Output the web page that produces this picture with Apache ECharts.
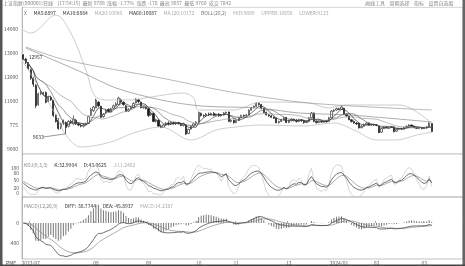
<!DOCTYPE html>
<html><head><meta charset="utf-8">
<script src="https://cdn.jsdelivr.net/npm/echarts@6/dist/echarts.min.js"></script>
<style>html,body{margin:0;padding:0;background:#fff}#c{width:465px;height:266px}</style>
</head><body><div id="c"></div>
<script>
// candles: [open, close, low, high]
const ohlc = [
[12920,12750,12700,12957],[12750,12600,12540,12800],[12580,12350,12300,12620],[12300,11950,11880,12350],
[11950,11700,11580,12000],[11650,10800,10700,11700],[10850,11300,10800,11350],[11300,11350,11250,11420],
[11320,11280,11220,11380],[11350,10950,10900,11400],[10980,11150,10950,11200],[11150,11050,11000,11220],
[11000,10400,10330,11050],[10420,10150,10100,10450],[10200,9850,9800,10290],[9880,10050,9820,10100],
[10080,10180,10000,10230],[10100,9900,9633,10150],[9950,10150,9900,10200],[10150,10100,10050,10220],
[10050,10250,10000,10400],[10200,10050,10000,10250],[10050,10000,9950,10100],[9980,9950,9900,10050],
[9950,10000,9900,10060],[10000,10050,9980,10100],[10060,10350,10040,10400],[10400,10650,10380,10720],
[10600,10750,10550,10800],[10720,11040,10700,11100],[10950,10800,10750,11000],[10780,10320,10290,10800],
[10350,10450,10300,10500],[10500,10620,10450,10650],[10650,10560,10520,10700],[10560,10680,10540,10720],
[10700,10800,10680,10850],[10800,10880,10760,10950],[10850,11120,10830,11180],[11050,10960,10900,11100],
[10950,10850,10800,10980],[10800,10560,10540,10820],[10580,10650,10550,10700],[10650,10720,10620,10780],
[10720,10900,10700,10950],[10920,11080,10900,11120],[11050,10980,10920,11100],[10950,10720,10700,10980],
[10720,10760,10680,10800],[10750,10680,10650,10780],[10680,10400,10330,10700],[10420,10500,10380,10560],
[10480,10150,10120,10520],[10160,10220,10100,10260],[10200,9950,9920,10230],[9960,9900,9870,10020],
[9900,10000,9880,10050],[10000,10080,9960,10120],[10080,10050,10000,10150],[10050,10120,10000,10160],
[10100,10050,10020,10150],[10050,10100,10000,10140],[10100,10060,10020,10130],[10050,9980,9950,10100],
[9980,10060,9940,10100],[10000,9620,9580,10020],[9650,9820,9620,9850],[9830,9950,9800,9980],
[9950,10050,9920,10080],[10050,10120,10000,10160],[10120,10520,10100,10560],[10480,10400,10350,10520],
[10400,10380,10320,10440],[10380,10450,10350,10500],[10450,10420,10380,10520],[10420,10480,10400,10520],
[10480,10400,10360,10540],[10400,10450,10380,10480],[10450,10380,10340,10500],[10380,10420,10350,10460],
[10420,10500,10400,10540],[10500,10530,10460,10560],[10540,10150,10120,10560],[10150,10200,10100,10240],
[10200,10100,10050,10230],[10100,10180,10080,10220],[10200,10300,10180,10340],[10300,10400,10280,10430],
[10400,10360,10320,10440],[10380,10420,10350,10460],[10420,10620,10400,10650],[10620,10720,10600,10760],
[10720,10780,10700,10820],[10780,10900,10750,10950],[10900,10850,10800,10940],[10850,10700,10650,10880],
[10700,10520,10500,10720],[10520,10420,10400,10560],[10420,10380,10340,10450],[10380,10320,10300,10420],
[10320,10280,10250,10360],[10290,10090,10080,10300],[10100,10150,10060,10180],[10150,10220,10120,10250],
[10220,10300,10200,10340],[10320,10100,10080,10330],[10100,10180,10080,10220],[10180,10250,10150,10280],
[10250,10200,10150,10260],[10200,10150,10100,10250],[10150,10220,10120,10260],[10220,10180,10130,10250],
[10180,10100,10050,10220],[10100,10150,10080,10190],[10150,10300,10120,10330],[10300,10500,10280,10540],
[10500,10150,10120,10520],[10150,10100,10060,10200],[10100,10150,10080,10180],[10150,10120,10100,10180],
[10120,10180,10100,10200],[10180,10140,10100,10200],[10150,10300,10140,10340],[10300,10580,10280,10620],
[10580,10620,10540,10660],[10620,10680,10600,10720],[10680,10650,10620,10720],[10650,10750,10620,10830],
[10700,10450,10420,10720],[10450,10380,10340,10480],[10380,10220,10200,10400],[10220,10150,10100,10250],
[10150,10080,10050,10180],[10080,10050,10000,10120],[10080,9880,9850,10100],[9890,9950,9860,9990],
[9950,10020,9920,10060],[10020,10080,10000,10110],[10080,10000,9980,10100],[10000,10020,9980,10060],
[10020,10000,9960,10050],[10000,9980,9950,10040],[9950,9680,9660,9980],[9700,9850,9680,9880],
[9850,9920,9830,9950],[9920,9900,9870,9950],[9900,9930,9880,9960],[9930,9910,9880,9960],
[9920,9720,9700,9940],[9740,9820,9720,9850],[9820,9860,9800,9890],[9860,9840,9800,9880],
[9840,9900,9820,9930],[9900,9950,9880,9980],[9950,10000,9920,10030],[10000,9960,9930,10020],
[9960,9900,9870,9980],[9900,9860,9830,9920],[9860,9880,9840,9910],[9880,9850,9820,9900],
[9850,9880,9830,9910],[9880,9920,9860,9950],[9920,10080,9900,10120],[10060,9730,9700,10080]
];
const slotCount = 176; // trading-day slots on the time axis (last ones empty)
const tickIndex = [3, 29, 50, 70, 85, 106, 126, 141, 160];
const tickText = ['2023/07', '08', '09', '10', '11', '12', '2024/01', '02', '03'];
const priceTicks = [9000, 10000, 11000, 12000, 13000, 14000];
const priceTickText = ['9000', '775', '11000', '12000', '13000', '14000'];
const kdjTicks = [0, 20, 50, 80, 100];
const macdTicks = [0, -400];
// long moving averages / bands: [slot, value]
const ma120Line = [[1,13250],[17,12708],[55,11958],[83,11375],[114,10917],[163,10625]];
const ma60Line = [[1,13208],[24,12167],[37,11542],[55,11042],[71,10792],[94,10708],[110,10500],[130,10417],[163,10125]];
const bollUpper = [[0,13958],[3,13833],[13,14583],[19,13833],[25,12292],[29,11167],[35,11042],[43,11042],[51,11167],[64,11333],[68,11125],[70,10625],[84,10625],[95,10958],[114,10917],[122,10708],[128,10833],[150,10833],[163,10083]];
const bollLower = [[0,12625],[7,11458],[13,10417],[17,9583],[23,9083],[35,9292],[44,9667],[55,9917],[67,9375],[77,9792],[85,9917],[95,10000],[112,9958],[124,10083],[132,9792],[141,9375],[149,9375],[157,9583],[163,9708]];

const slots = Array.from({length: slotCount}, (_, i) => 'd' + i);
const closes = ohlc.map(d => d[1]);
function ma(n) {
  return closes.map((c, i) => { const s = Math.max(0, i - n + 1); let sum = 0; for (let k = s; k <= i; k++) sum += closes[k]; return +(sum / (i - s + 1)).toFixed(1); });
}
// KDJ(9,3,3)
const K = [], D = [], J = [];
{ let k = 50, d = 50;
  ohlc.forEach((row, i) => {
    const s = Math.max(0, i - 8); let lo = Infinity, hi = -Infinity;
    for (let t = s; t <= i; t++) { lo = Math.min(lo, ohlc[t][2]); hi = Math.max(hi, ohlc[t][3]); }
    const rsv = hi === lo ? 50 : (row[1] - lo) / (hi - lo) * 100;
    k = 2 / 3 * k + rsv / 3; d = 2 / 3 * d + k / 3;
    K.push(+k.toFixed(2)); D.push(+d.toFixed(2)); J.push(+(3 * k - 2 * d).toFixed(2));
  });
}
// MACD(12,26,9)
const DIF = [], DEA = [], HIST = [];
{ let e12 = closes[0], e26 = closes[0], dea = 0;
  closes.forEach(c => {
    e12 = e12 * 11 / 13 + c * 2 / 13; e26 = e26 * 25 / 27 + c * 2 / 27;
    const dif = e12 - e26; dea = dea * 8 / 10 + dif * 2 / 10;
    DIF.push(+dif.toFixed(2)); DEA.push(+dea.toFixed(2)); HIST.push(+(2 * (dif - dea)).toFixed(2));
  });
}

const FONT = '"Noto Sans CJK SC", "DejaVu Sans", sans-serif';
const chart = echarts.init(document.getElementById('c'), null, {renderer: 'canvas'});
const lineS = (name, data, color, xi, w, extra) => Object.assign({
  name, type: 'line', data, xAxisIndex: xi, yAxisIndex: xi, symbol: 'none',
  lineStyle: {color, width: w}, silent: true, animation: false
}, extra || {});

chart.setOption({
  animation: false,
  backgroundColor: '#fff',
  textStyle: {fontFamily: FONT},
  grid: [
    {left: 22, right: 2, top: 7.4, height: 146.4, show: true, borderColor: '#bbb', borderWidth: 0.6},
    {left: 22, right: 2, top: 154, height: 43, show: true, borderColor: '#bbb', borderWidth: 0.6},
    {left: 22, right: 2, top: 197, height: 62, show: true, borderColor: '#999', borderWidth: 0.6}
  ],
  xAxis: [0, 1, 2].map(gi => ({
    type: 'category', gridIndex: gi, data: slots, boundaryGap: true,
    axisLine: {show: false}, splitLine: {show: false},
    axisTick: gi === 2 ? {show: true, inside: true, length: 2, lineStyle: {color: '#777', width: 0.6}, interval: (i) => tickIndex.includes(i)} : {show: false},
    axisLabel: gi === 2 ? {
      show: true, fontSize: 5, color: '#666', margin: 1.5, fontFamily: FONT,
      interval: (i) => tickIndex.includes(i),
      formatter: (v, i) => { const k = tickIndex.indexOf(i); return k >= 0 ? tickText[k] : ''; }
    } : {show: false}
  })),
  yAxis: [
    {type: 'value', gridIndex: 0, min: 8800, max: 14900, position: 'left',
     axisLine: {show: true, lineStyle: {color: '#999', width: 0.6}}, axisTick: {show: false},
     splitLine: {show: false},
     axisLabel: {fontSize: 5, color: '#555', margin: 4, customValues: priceTicks,
       formatter: (v) => { const k = priceTicks.indexOf(v); return k >= 0 ? priceTickText[k] : ''; }}},
    {type: 'value', gridIndex: 1, min: -16, max: 156,
     axisLine: {show: true, lineStyle: {color: '#999', width: 0.6}}, axisTick: {show: false},
     splitLine: {show: false},
     axisLabel: {fontSize: 5, color: '#555', margin: 3, customValues: kdjTicks}},
    {type: 'value', gridIndex: 2, min: -720, max: 520,
     axisLine: {show: true, lineStyle: {color: '#999', width: 0.6}}, axisTick: {show: false},
     splitLine: {show: false},
     axisLabel: {fontSize: 5, color: '#555', margin: 3, customValues: macdTicks}}
  ],
  series: [
    lineS('BOLL-UP', bollUpper, '#b8b8b8', 0, 0.7, {smooth: 0.35}),
    lineS('BOLL-LOW', bollLower, '#b8b8b8', 0, 0.7, {smooth: 0.35}),
    lineS('MA120', ma120Line, '#9a9a9a', 0, 0.7, {smooth: 0.3}),
    lineS('MA60', ma60Line, '#8a8a8a', 0, 0.7, {smooth: 0.3}),
    lineS('MA20', ma(20), '#9c9c9c', 0, 0.7),
    lineS('MA10', ma(10), '#6a6a6a', 0, 0.7),
    lineS('MA5', ma(5), '#333', 0, 0.7),
    {
      name: 'K', type: 'candlestick', data: ohlc, xAxisIndex: 0, yAxisIndex: 0, barWidth: 1.8,
      itemStyle: {color: '#ffffff', borderColor: '#333', color0: '#1a1a1a', borderColor0: '#1a1a1a', borderWidth: 0.7},
      markPoint: {
        symbol: 'circle', symbolSize: 1, itemStyle: {color: 'rgba(0,0,0,0)'},
        label: {fontSize: 5, color: '#333', fontFamily: FONT},
        data: [
          {coord: [2, 12850], label: {formatter: '12957', position: 'right', distance: 0}},
          {coord: [6, 9500], label: {formatter: '9633', position: 'inside'}}
        ]
      },
      markLine: {
        silent: true, symbol: 'none', label: {show: false}, lineStyle: {color: '#555', width: 0.6, type: 'solid'},
        data: [[{coord: [8, 9500]}, {coord: [17, 9633]}]]
      }
    },
    lineS('KDJ-J', J, '#c4c4c4', 1, 0.7),
    lineS('KDJ-D', D, '#888', 1, 0.7),
    lineS('KDJ-K', K, '#333', 1, 0.7),
    {name: 'MACD', type: 'bar', data: HIST, xAxisIndex: 2, yAxisIndex: 2, barWidth: 0.7,
     itemStyle: {color: '#777'}, silent: true},
    lineS('DEA', DEA, '#888', 2, 0.7),
    lineS('DIF', DIF, '#333', 2, 0.7)
  ],
  graphic: [
    {type: 'rect', left: 0, top: 0, shape: {width: 2.5, height: 266}, style: {fill: '#555'}, silent: true},
    {type: 'rect', left: 462.5, top: 0, shape: {width: 2.5, height: 266}, style: {fill: '#666'}, silent: true},
    {type: 'rect', left: 0, top: 264.5, shape: {width: 465, height: 1.5}, style: {fill: '#444'}, silent: true},
    {type: 'text', left: 3, top: 0.5, style: {text: '上证指数(000001)日线    [17:54:15]  最新 9788  涨幅 -1.77%  涨跌 -178  最高 9857  最低 9760  成交 7842', fontSize: 5, fill: '#888', fontFamily: FONT}},
    {type: 'text', left: 365, top: 0.5, style: {text: '画线工具    周期选择    指标    设置自选股', fontSize: 5, fill: '#888', fontFamily: FONT}},
    {type: 'text', left: 24, top: 7.5, style: {
      rich: {a: {fill: '#333', fontSize: 5, fontFamily: FONT}, b: {fill: '#aaa', fontSize: 5, fontFamily: FONT}, c: {fill: '#777', fontSize: 5, fontFamily: FONT}},
      text: '{c|X}  {a|MA5:8897}  {a|MA10:8884}  {b|MA20:10080}  {a|MA60:10087}  {b|MA120:10172}  {c|BOLL(20,2)}  {b|MID:9889}  {b|UPPER:10656}  {b|LOWER:9123}'}},
    {type: 'text', left: 24, top: 159.5, style: {
      rich: {a: {fill: '#333', fontSize: 5, fontFamily: FONT}, b: {fill: '#aaa', fontSize: 5, fontFamily: FONT}, c: {fill: '#888', fontSize: 5, fontFamily: FONT}},
      text: '{c|KDJ(9,3,3)}  {a|K:32.9904}  {a|D:43.0625}  {b|J:11.2462}'}},
    {type: 'text', left: 24, top: 200.5, style: {
      rich: {a: {fill: '#333', fontSize: 5, fontFamily: FONT}, b: {fill: '#aaa', fontSize: 5, fontFamily: FONT}, c: {fill: '#888', fontSize: 5, fontFamily: FONT}},
      text: '{c|MACD(12,26,9)}  {a|DIFF:-38.7744}  {a|DEA:-45.8937}  {b|MACD:14.2387}'}},
    {type: 'text', left: 6, top: 260.5, style: {text: 'PMF', fontSize: 5, fill: '#444', fontFamily: FONT}}
  ]
});
</script>
</body></html>
